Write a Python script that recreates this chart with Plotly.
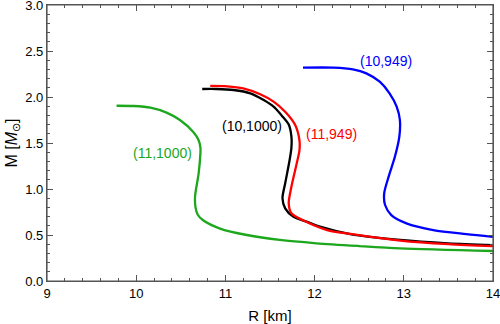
import plotly.graph_objects as go

# mass-radius curves (R in km, M in solar masses)
r_11_1000 = [9.78, 9.97, 10.16, 10.34, 10.49, 10.64, 10.70, 10.72, 10.72, 10.70, 10.66, 10.665, 10.69, 10.75, 10.94, 11.24, 11.61, 12.02, 12.50, 12.96, 14.0]
m_11_1000 = [1.905, 1.902, 1.884, 1.83, 1.75, 1.62, 1.53, 1.45, 1.39, 1.17, 0.92, 0.80, 0.72, 0.66, 0.57, 0.50, 0.446, 0.41, 0.38, 0.355, 0.326]

r_10_1000 = [10.74, 10.90, 11.09, 11.28, 11.43, 11.54, 11.63, 11.71, 11.74, 11.74, 11.72, 11.67, 11.64, 11.67, 11.76, 11.91, 12.06, 12.40, 12.96, 13.50, 14.0]
m_10_1000 = [2.087, 2.087, 2.076, 2.04, 1.967, 1.895, 1.80, 1.70, 1.57, 1.45, 1.315, 1.06, 0.90, 0.79, 0.70, 0.645, 0.59, 0.51, 0.446, 0.41, 0.39]

r_11_949 = [10.83, 11.02, 11.20, 11.39, 11.54, 11.67, 11.78, 11.83, 11.83, 11.80, 11.74, 11.71, 11.74, 11.87, 12.14, 12.40, 12.96, 13.50, 14.0]
m_11_949 = [2.12, 2.116, 2.094, 2.03, 1.95, 1.84, 1.70, 1.53, 1.42, 1.28, 1.025, 0.845, 0.736, 0.66, 0.554, 0.512, 0.44, 0.40, 0.378]

r_10_949 = [11.87, 12.21, 12.43, 12.58, 12.73, 12.84, 12.92, 12.956, 12.95, 12.90, 12.83, 12.78, 12.79, 12.86, 13.03, 13.33, 13.70, 14.0]
m_10_949 = [2.319, 2.319, 2.30, 2.257, 2.166, 2.04, 1.895, 1.75, 1.57, 1.35, 1.134, 0.953, 0.826, 0.717, 0.627, 0.554, 0.51, 0.48]

curves = [
    ("(11,1000)", r_11_1000, m_11_1000, "#1ca71c", 10.29, 1.39),
    ("(10,1000)", r_10_1000, m_10_1000, "black", 11.30, 1.685),
    ("(11,949)", r_11_949, m_11_949, "#ff0000", 12.19, 1.595),
    ("(10,949)", r_10_949, m_10_949, "#0000ff", 12.80, 2.39),
]

fig = go.Figure()
for name, r, m, col, lx, ly in curves:
    fig.add_trace(go.Scatter(x=r, y=m, mode="lines", name=name,
                             line=dict(color=col, width=2.3, shape="spline", smoothing=0.8)))
    fig.add_annotation(x=lx, y=ly, text=name, showarrow=False,
                       font=dict(color=col, size=14))

axis_style = dict(showline=True, mirror="allticks", linecolor="#555", linewidth=1.2,
                  ticks="inside", ticklen=6, tickcolor="#555", showgrid=False,
                  zeroline=False, automargin=False, ticklabeloverflow="allow",
                  tickfont=dict(size=13, color="black"))

fig.update_xaxes(range=[9, 14], dtick=1, title=dict(text="R [km]", font=dict(size=15), standoff=11),
                 minor=dict(dtick=0.2, ticks="inside", ticklen=3, tickcolor="#555"), **axis_style)
fig.update_yaxes(range=[0, 3], dtick=0.5, tickformat=".1f",
                 title=dict(text="M [<i>M</i><sub>⊙</sub>]", font=dict(size=16), standoff=3),
                 minor=dict(dtick=0.1, ticks="inside", ticklen=3, tickcolor="#555"), **axis_style)

# frame round the plot area
fig.add_shape(type="rect", xref="paper", yref="paper", x0=0, y0=0, x1=1, y1=1,
              line=dict(color="#555", width=1.2), layer="above")

fig.update_layout(width=500, height=324, showlegend=False,
                  plot_bgcolor="white", paper_bgcolor="white",
                  font=dict(family="Liberation Sans, Arial", color="black"),
                  margin=dict(l=47, r=7, t=5, b=43))

# drop the default page margin so the 500x324 figure fills the window
fig.write_html("out.html", config={"displayModeBar": False},
               post_script="document.body.style.margin='0';")
